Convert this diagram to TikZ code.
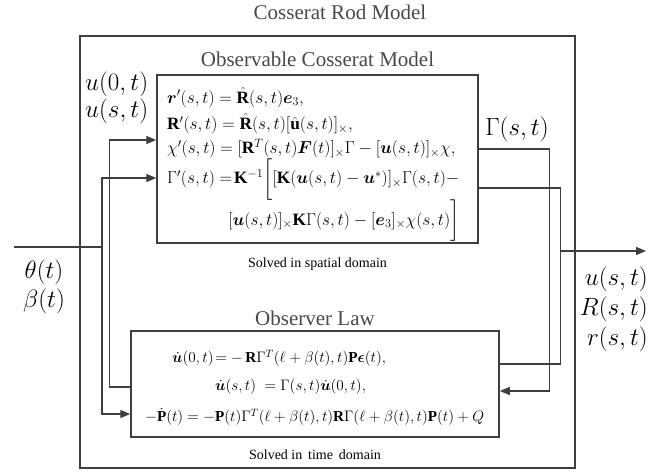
\RequirePackage{fix-cm}
\documentclass[tikz,border=0pt]{standalone}
\usepackage{amsmath,amssymb,bm}
\usepackage{fontspec}
\setmainfont{Liberation Serif}
\usetikzlibrary{positioning,arrows.meta}
\definecolor{wiregray}{RGB}{62,62,62}
\definecolor{titlegray}{RGB}{72,72,72}

\begin{document}
\begin{tikzpicture}[x=1pt,y=-1pt,
  box/.style={draw=wiregray,line width=1.5pt,inner sep=0pt},
  wire/.style={draw=wiregray,line width=1.4pt},
  arr/.style={wire,-{Triangle[length=10pt,width=8pt]}},
  title/.style={text=titlegray,font=\fontsize{21}{24}\selectfont},
  note/.style={font=\fontsize{14}{16}\selectfont},
  eqs/.style={font=\fontsize{17.3}{19}\selectfont,inner sep=0pt},
  biglab/.style={font=\fontsize{25}{27}\selectfont,inner sep=0pt}]
\useasboundingbox (0,0) rectangle (672,472);
% boxes
\node[box,line width=1.8pt,minimum width=495,minimum height=432] (rod) at (327.5,252) {};
\node[box,minimum width=321,minimum height=168] (obs) at (317.5,159) {};
\node[box,minimum width=368,minimum height=106] (law) at (315,384) {};
\node[title] (rodtitle) at (340,12) {Cosserat Rod Model};
\node[title,above=4pt of obs] (obstitle) {Observable Cosserat Model};
\node[note,below=10pt of obs] (obsnote) {Solved in spatial domain};
\node[title,above=1pt of law] (lawtitle) {Observer Law};
\node[note,below=8pt of law] (lawnote) {Solved in\, time\, domain};
% equations
\node[eqs,anchor=north west] (obseq) at (167,87) {$\begin{array}{@{}l@{}}
 \bm r^{\prime}(s,t)=\hat{\mathbf R}(s,t)\bm e_3,\\[5pt]
 \mathbf R^{\prime}(s,t)=\hat{\mathbf R}(s,t)[\hat{\mathbf u}(s,t)]_{\times},\\[4pt]
 \chi^{\prime}(s,t)=[\mathbf R^T(s,t)\bm F(t)]_{\times}\Gamma-[\bm u(s,t)]_{\times}\chi,\\[-1pt]
 \Gamma^{\prime}(s,t)=\!\mathbf K^{-1}\biggl[[\mathbf K(\bm u(s,t)-\bm u^*)]_{\times}\Gamma(s,t)-\\[10pt]
 \multicolumn{1}{@{}r@{}}{[\bm u(s,t)]_{\times}\mathbf K\Gamma(s,t)-[\bm e_3]_{\times}\chi(s,t)\biggr]}
\end{array}$};
\node[eqs,font=\fontsize{15.2}{18}\selectfont,anchor=north west] (laweq) at (145,350) {$\begin{array}{@{}l@{}}
 \hspace*{27pt}\dot{\bm u}(0,t)\!=-\,\mathbf R\Gamma^T(\ell+\beta(t),t)\mathbf P\bm\epsilon(t),\\[10pt]
 \hspace*{70pt}\dot{\bm u}(s,t)\;=\Gamma(s,t)\dot{\bm u}(0,t),\\[12pt]
 -\dot{\mathbf P}(t)=-\mathbf P(t)\Gamma^T(\ell+\beta(t),t)\mathbf R\Gamma(\ell+\beta(t),t)\mathbf P(t)+Q
\end{array}$};
% signals
\node[biglab,anchor=north west,align=left] (uin) at (85,72) {$u(0,t)$\\$u(s,t)$};
\node[biglab] (gam) at (517,129) {$\Gamma(s,t)$};
\node[biglab,align=center,font=\fontsize{25}{29}\selectfont] (thb) at (44,287) {$\theta(t)$\\$\beta(t)$};
\node[biglab,align=right,font=\fontsize{25}{30}\selectfont,anchor=east] (outs) at (648,309) {$u(s,t)$\\$R(s,t)$\\$r(s,t)$};
\coordinate (in0) at (14,247);
\coordinate (split) at (102,247);
\coordinate (tap) at (560,251);
\coordinate (out) at (646,251);
% connectors
\draw[wire] (in0) -- (split);
\draw[arr] (split) |- ([yshift=-19pt]obs.west);
\draw[arr] (split) |- ([yshift=-30pt]law.west);
\draw[arr] ([yshift=-3pt]law.west) -- ++(-21,0) |- ([yshift=19pt]obs.west);
\draw[arr] ([yshift=10pt]obs.east) -- ++(71,0) |- ([yshift=-7pt]law.east);
\draw[wire] ([yshift=-29pt]obs.east) -- ++(82,0) |- ([yshift=20pt]law.east);
\draw[arr] (tap) -- (out);
\end{tikzpicture}
\end{document}
